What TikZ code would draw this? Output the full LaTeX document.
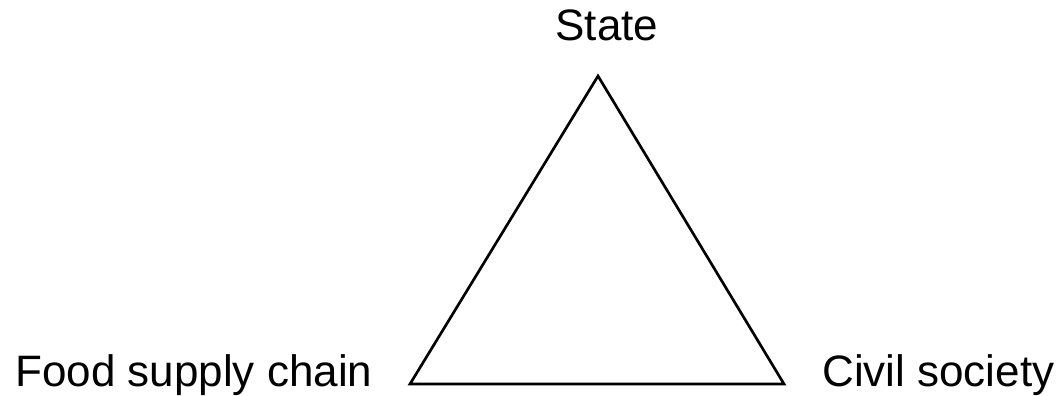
\documentclass[tikz,border=0pt]{standalone}
\usepackage{fontspec}
\setmainfont{Liberation Sans}
\usetikzlibrary{positioning}

\begin{document}
\begin{tikzpicture}[
  x=0.75pt, y=-0.75pt,
  font=\fontsize{33}{40}\selectfont,
  label/.style={inner sep=0pt, anchor=base},
  edge/.style={draw=black, line width=2pt, line join=miter}
]
\useasboundingbox (0,0) rectangle (1057,396);
\coordinate (top) at (598,76);
\coordinate (left) at (410,384);
\coordinate (right) at (784,384);

\node[label] (state) at (607,40) {State};
\node[label, anchor=base west] (food) at (15,386) {Food supply chain};
\node[label, anchor=base west] (civil) at (822,386) {Civil society};

\draw[edge] (top) -- (left) -- (right) -- cycle;
\end{tikzpicture}
\end{document}
